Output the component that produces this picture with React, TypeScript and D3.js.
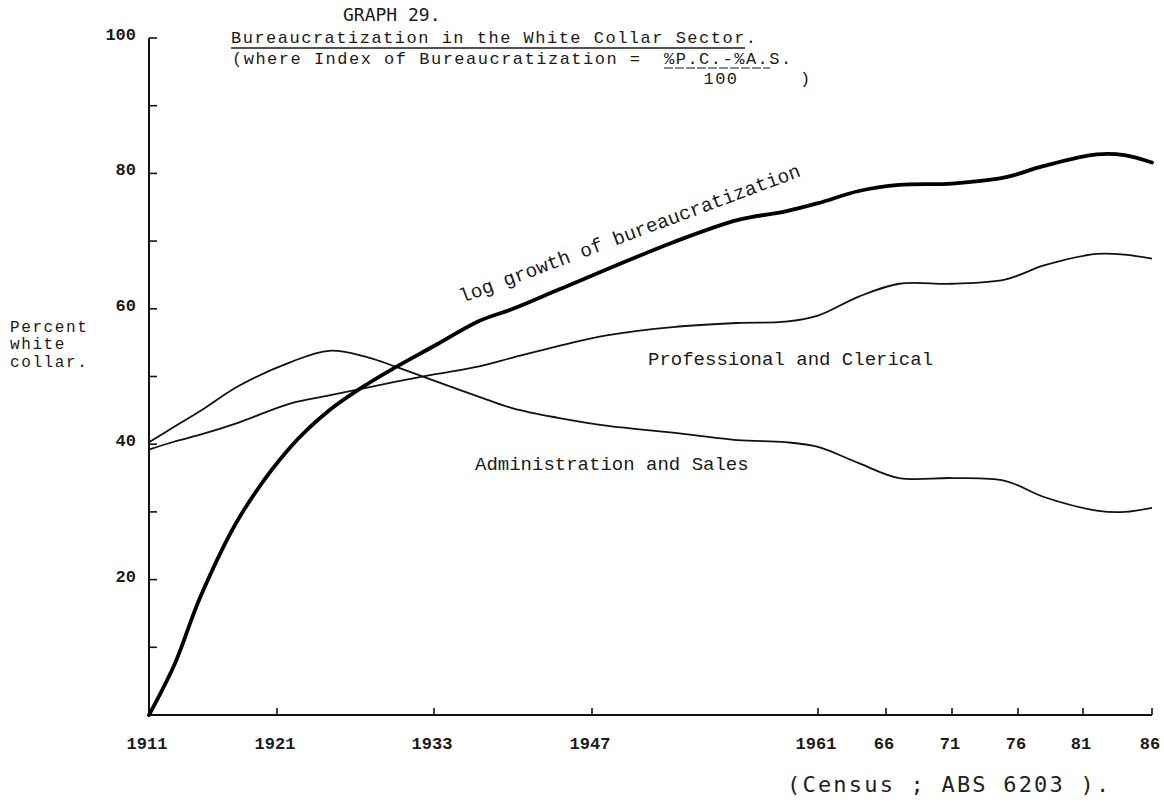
import React from 'react';
import * as d3 from 'd3';

// Census years (and intermediate readings) along the curves
const years = [1911, 1913, 1915, 1918, 1922, 1925, 1928, 1930, 1933, 1937, 1940, 1944, 1948, 1952, 1956, 1959, 1961, 1964, 1967, 1971, 1975, 1978, 1982, 1984, 1986];
const logGrowth = [0, 7.5, 17.4, 29, 39.5, 45, 49, 51.3, 54.5, 58.2, 60, 62.8, 65.9, 69.8, 73.1, 74.4, 75.6, 77.4, 78.3, 78.5, 79.4, 81.1, 82.8, 82.7, 81.6];
const profClerical = [39.2, 40.4, 41.4, 43.2, 46, 47.2, 48.4, 49.2, 50.3, 51.5, 52.8, 54.5, 56.1, 57.3, 57.9, 58.1, 59, 61.8, 63.7, 63.7, 64.3, 66.4, 68.1, 68, 67.4];
const adminSales = [40.3, 42.6, 44.9, 48.6, 52.1, 53.8, 52.8, 51.5, 49.4, 47, 45.3, 43.9, 42.7, 41.7, 40.6, 40.3, 39.6, 37.2, 35, 35, 34.6, 32.2, 30.2, 30, 30.6];

const tickYears = [1911, 1921, 1933, 1947, 1961, 1966, 1971, 1976, 1981, 1986];
const tickLabels = ['1911', '1921', '1933', '1947', '1961', '66', '71', '76', '81', '86'];
const tickPixels = [149, 277, 434, 592, 818, 886, 952, 1018, 1083, 1152];
const yTickValues = [0, 10, 20, 30, 40, 50, 60, 70, 80, 90, 100];
const yLabelValues = [20, 40, 60, 80, 100];

const W = 1164;
const H = 802;
const TYPE = '"Liberation Mono", "Courier New", monospace';
const SANSMONO = '"DejaVu Sans Mono", monospace';

export default function App() {
  const x = d3.scaleLinear().domain(tickYears).range(tickPixels);
  const y = d3.scaleLinear().domain([0, 100]).range([715, 38]);

  const mk = (vals: number[]) =>
    d3
      .line<number>()
      .x((_, i) => x(years[i]))
      .y((v) => y(v))
      .curve(d3.curveCatmullRom.alpha(0.5))(vals) as string;

  const x0 = x(1911);
  const yBase = y(0);

  return (
    <svg
      width={W}
      height={H}
      viewBox={`0 0 ${W} ${H}`}
      style={{ position: 'absolute', left: 0, top: 0, display: 'block', background: '#fff' }}
    >
      <rect x={0} y={0} width={W} height={H} fill="#fff" />
      {/* Title block */}
      <text x={343} y={21} fontFamily={SANSMONO} fontSize={18} fill="#1a1a1a">GRAPH 29.</text>
      <text x={231} y={43} fontFamily={TYPE} fontSize={17} letterSpacing={1.5} fill="#1a1a1a">
        Bureaucratization in the White Collar Sector.
      </text>
      <line x1={231} x2={745} y1={48} y2={48} stroke="#1a1a1a" strokeWidth={1.3} />
      <text x={232} y={64} fontFamily={TYPE} fontSize={17} letterSpacing={1.5} fill="#1a1a1a">
        (where Index of Bureaucratization =
      </text>
      <text x={664} y={64} fontFamily={TYPE} fontSize={17} letterSpacing={1.5} fill="#1a1a1a">%P.C.-%A.S.</text>
      <line x1={664} x2={770} y1={68} y2={68} stroke="#1a1a1a" strokeWidth={1.2} strokeDasharray="9 2" />
      <text x={721} y={84} textAnchor="middle" fontFamily={TYPE} fontSize={17} letterSpacing={1.5} fill="#1a1a1a">100</text>
      <text x={800} y={84} fontFamily={TYPE} fontSize={17} fill="#1a1a1a">)</text>

      {/* Y axis label */}
      <g fontFamily={TYPE} fontSize={16} letterSpacing={1.6} fill="#1a1a1a">
        <text x={10} y={332}>Percent</text>
        <text x={10} y={349}>white</text>
        <text x={10} y={367}>collar.</text>
      </g>

      {/* Y axis */}
      <line x1={x0} x2={x0} y1={y(100)} y2={yBase} stroke="#111" strokeWidth={2} />
      {yTickValues.map((v) => (
        <line key={'yt' + v} x1={x0} x2={x0 + 8} y1={y(v)} y2={y(v)} stroke="#111" strokeWidth={1.6} />
      ))}
      {yLabelValues.map((v) => (
        <text
          key={'yl' + v}
          x={136}
          y={y(v) + 2}
          textAnchor="end"
          fontFamily={TYPE}
          fontWeight="bold"
          fontSize={17}
          fill="#1a1a1a"
        >
          {v}
        </text>
      ))}

      {/* X axis */}
      <line x1={x0} x2={x(1986)} y1={yBase} y2={yBase} stroke="#111" strokeWidth={2} />
      {tickYears.map((t) => (
        <line key={'xt' + t} x1={x(t)} x2={x(t)} y1={yBase} y2={yBase - 7} stroke="#111" strokeWidth={1.6} />
      ))}
      {tickYears.map((t, i) => (
        <text
          key={'xl' + t}
          x={x(t) - 2}
          y={749}
          textAnchor="middle"
          fontFamily={TYPE}
          fontWeight="bold"
          fontSize={17}
          fill="#1a1a1a"
        >
          {tickLabels[i]}
        </text>
      ))}

      {/* Series */}
      <path d={mk(profClerical)} fill="none" stroke="#111" strokeWidth={1.8} />
      <path d={mk(adminSales)} fill="none" stroke="#111" strokeWidth={1.8} />
      <path d={mk(logGrowth)} fill="none" stroke="#000" strokeWidth={3.8} strokeLinecap="round" />

      {/* Series labels */}
      <text
        x={462}
        y={303}
        transform="rotate(-20.5 462 303)"
        fontFamily={TYPE}
        fontSize={19.5}
        fill="#1a1a1a"
      >
        log growth of bureaucratization
      </text>
      <text x={648} y={365} fontFamily={TYPE} fontSize={19} fill="#1a1a1a">Professional and Clerical</text>
      <text x={475} y={470} fontFamily={TYPE} fontSize={19} fill="#1a1a1a">Administration and Sales</text>

      {/* Source */}
      <text x={787} y={792} fontFamily={SANSMONO} fontSize={22} letterSpacing={2.2} fill="#222" xmlSpace="preserve">
        (Census ; ABS 6203 ).
      </text>
    </svg>
  );
}
